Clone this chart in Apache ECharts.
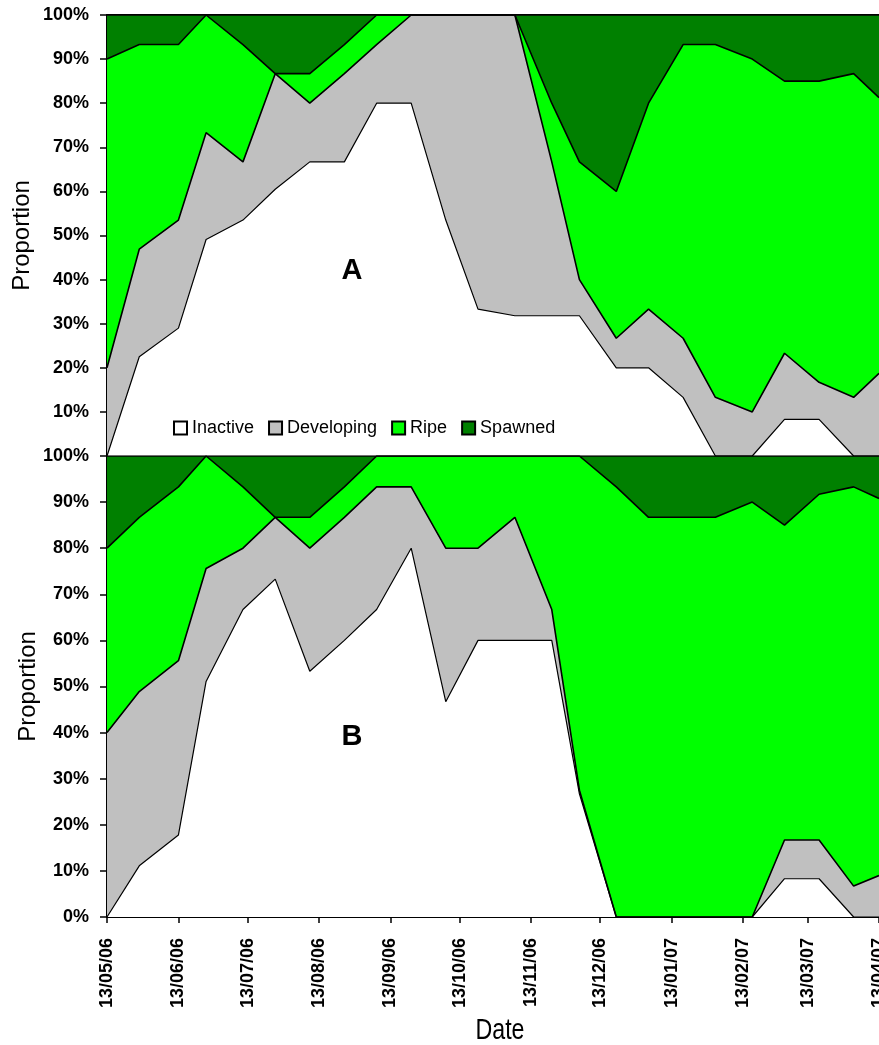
<!DOCTYPE html>
<html>
<head>
<meta charset="utf-8">
<title>Reproductive stage proportions</title>
<script src="https://cdn.jsdelivr.net/npm/echarts@6/dist/echarts.min.js"></script>
<style>
  html, body { margin: 0; padding: 0; background: #fff; }
  #chart { width: 879px; height: 1045px; }
</style>
</head>
<body>
<div id="chart"></div>
<script>
// Sampling dates (fortnightly)
const sampleDates = ['2006-05-13','2006-05-27','2006-06-13','2006-06-25','2006-07-11','2006-07-25',
  '2006-08-09','2006-08-24','2006-09-07','2006-09-22','2006-10-07','2006-10-21','2006-11-06',
  '2006-11-22','2006-12-04','2006-12-20','2007-01-03','2007-01-18','2007-02-01','2007-02-17',
  '2007-03-03','2007-03-18','2007-04-02','2007-04-13'];

// Stage names and fills
const stageNames = ['Inactive', 'Developing', 'Ripe', 'Spawned'];
const stageColors = ['#FFFFFF', '#C0C0C0', '#00FF00', '#008000'];

// Panel A: proportion (%) of each stage per sample
const aInactive   = [0, 22.5, 29, 49.1, 53.5, 60.5, 66.7, 66.7, 80, 80, 53.5, 33.3, 31.8, 31.8, 31.8, 20, 20, 13.3, 0, 0, 8.3, 8.3, 0, 0];
const aDeveloping = [20, 24.4, 24.5, 24.2, 13.2, 26.2, 13.3, 20, 13.3, 20, 46.5, 66.7, 68.2, 34.9, 8.2, 6.7, 13.3, 13.4, 13.3, 10, 15, 8.4, 13.3, 18.75];
const aRipe       = [70, 46.4, 39.8, 26.7, 26.6, 0, 6.7, 6.6, 6.7, 0, 0, 0, 0, 13.3, 26.7, 33.3, 46.7, 66.6, 80, 80, 61.7, 68.3, 73.4, 62.5];
const aSpawned    = [10, 6.7, 6.7, 0, 6.7, 13.3, 13.3, 6.7, 0, 0, 0, 0, 0, 20, 33.3, 40, 20, 6.7, 6.7, 10, 15, 15, 13.3, 18.75];

// Panel B: proportion (%) of each stage per sample
const bInactive   = [0, 11.1, 17.8, 51.1, 66.7, 73.3, 53.3, 60, 66.7, 80, 46.7, 60, 60, 60, 26.7, 0, 0, 0, 0, 0, 8.3, 8.3, 0, 0];
const bDeveloping = [40, 37.8, 37.8, 24.5, 13.3, 13.4, 26.7, 26.7, 26.6, 13.3, 33.3, 20, 26.7, 6.7, 0.8, 0, 0, 0, 0, 0, 8.4, 8.4, 6.7, 9];
const bRipe       = [40, 37.8, 37.7, 24.4, 13.3, 0, 6.7, 6.6, 6.7, 6.7, 20, 20, 13.3, 33.3, 72.5, 93.3, 86.7, 86.7, 86.7, 90, 68.3, 75, 86.6, 81.8];
const bSpawned    = [20, 13.3, 6.7, 0, 6.7, 13.3, 13.3, 6.7, 0, 0, 0, 0, 0, 0, 0, 6.7, 13.3, 13.3, 13.3, 10, 15, 8.3, 6.7, 9.2];

// Monthly date ticks
const tickDates = ['2006-05-13','2006-06-13','2006-07-13','2006-08-13','2006-09-13','2006-10-13',
  '2006-11-13','2006-12-13','2007-01-13','2007-02-13','2007-03-13','2007-04-13'];

const panelLetters = ['A', 'B'];

const FONT = "'Liberation Sans', Arial, sans-serif";
const toTime = s => Date.UTC(+s.slice(0, 4), +s.slice(5, 7) - 1, +s.slice(8, 10));
const tickValues = tickDates.map(toTime);
const sampleTimes = sampleDates.map(toTime);
const xMin = tickValues[0];
const xMax = tickValues[tickValues.length - 1];

function fmtDate(v) {
  const d = new Date(v);
  const p = n => (n < 10 ? '0' : '') + n;
  return p(d.getUTCDate()) + '/' + p(d.getUTCMonth() + 1) + '/' + p(d.getUTCFullYear() % 100);
}

// Running totals: each stage's upper boundary = sum of it and the stages below it.
function cumulative(arrays) {
  const out = [];
  arrays.forEach((vals, i) => {
    out.push(vals.map((v, k) => (i ? out[i - 1][k] : 0) + v));
  });
  return out;
}

// Areas are filled from 0 up to each running total; the top stage is drawn first
// so each lower stage covers the part of the area beneath it.
function stageSeries(panel, arrays) {
  const cum = cumulative(arrays);
  const list = [];
  for (let i = arrays.length - 1; i >= 0; i--) {
    list.push({
      name: stageNames[i],
      type: 'line',
      xAxisIndex: panel,
      yAxisIndex: panel,
      symbol: 'none',
      color: stageColors[i],
      lineStyle: { color: '#000', width: i === 0 ? 1.2 : 1.6 },
      areaStyle: { color: stageColors[i], opacity: 1 },
      emphasis: { disabled: true },
      data: sampleTimes.map((t, k) => [t, cum[i][k]])
    });
  }
  return list;
}

const grids = [
  { left: 107, top: 15, width: 772, height: 441, containLabel: false, outerBoundsMode: 'none' },
  { left: 107, top: 456, width: 772, height: 461, containLabel: false, outerBoundsMode: 'none' }
];

function yAxis(gridIndex, showZero, nameGap) {
  return {
    type: 'value', gridIndex, min: 0, max: 100, interval: 10,
    name: 'Proportion', nameLocation: 'middle', nameGap, nameMoveOverlap: false,
    nameTextStyle: { fontSize: 24, fontFamily: FONT, color: '#000' },
    axisLine: { show: true, lineStyle: { color: '#000', width: 2 } },
    axisTick: { show: true, inside: false, length: 7, lineStyle: { color: '#000', width: 1.5 } },
    axisLabel: {
      margin: 18, fontSize: 18, fontWeight: 'bold', fontFamily: FONT, color: '#000',
      formatter: v => (v === 0 && !showZero) ? '' : v + '%'
    },
    splitLine: { show: false }
  };
}

function dateAxis(gridIndex, extra) {
  return Object.assign({
    type: 'value', gridIndex, min: xMin, max: xMax, scale: true,
    axisLine: { lineStyle: { color: '#000', width: 2 } },
    splitLine: { show: false }
  }, extra);
}

const option = {
  animation: false,
  backgroundColor: '#fff',
  grid: grids,
  legend: {
    left: 173, top: 419, padding: 0,
    icon: 'rect', itemWidth: 13, itemHeight: 13, itemGap: 14,
    itemStyle: { borderColor: '#000', borderWidth: 2 },
    textStyle: { fontSize: 18, fontFamily: FONT, color: '#000' },
    selectedMode: false,
    data: stageNames
  },
  xAxis: [
    dateAxis(0, {
      axisTick: { show: true, inside: true, length: 3, customValues: tickValues, lineStyle: { color: '#000' } },
      axisLabel: { show: false }
    }),
    dateAxis(1, {
      axisTick: { show: true, length: 6, customValues: tickValues, lineStyle: { color: '#000', width: 1.5 } },
      axisLabel: {
        rotate: 90, margin: 21, fontSize: 18, fontWeight: 'bold', fontFamily: FONT, color: '#000',
        customValues: tickValues, formatter: v => fmtDate(v), hideOverlap: false
      }
    }),
    dateAxis(0, {
      position: 'top',
      axisTick: { show: false }, axisLabel: { show: false }
    })
  ],
  yAxis: [yAxis(0, false, 73), yAxis(1, true, 67)],
  series: [
    ...stageSeries(0, [aInactive, aDeveloping, aRipe, aSpawned]),
    ...stageSeries(1, [bInactive, bDeveloping, bRipe, bSpawned])
  ],
  graphic: [
    { type: 'text', x: 352, y: 271, z: 100,
      style: { text: panelLetters[0], font: 'bold 29px ' + FONT, fill: '#000', align: 'center', verticalAlign: 'middle' } },
    { type: 'text', x: 352, y: 737, z: 100,
      style: { text: panelLetters[1], font: 'bold 29px ' + FONT, fill: '#000', align: 'center', verticalAlign: 'middle' } },
    { type: 'text', x: 500, y: 1031, z: 100, scaleX: 0.8,
      style: { text: 'Date', font: '29px ' + FONT, fill: '#000', align: 'center', verticalAlign: 'middle' } }
  ]
};

const chart = echarts.init(document.getElementById('chart'), null, { renderer: 'canvas' });
chart.setOption(option);
</script>
</body>
</html>
